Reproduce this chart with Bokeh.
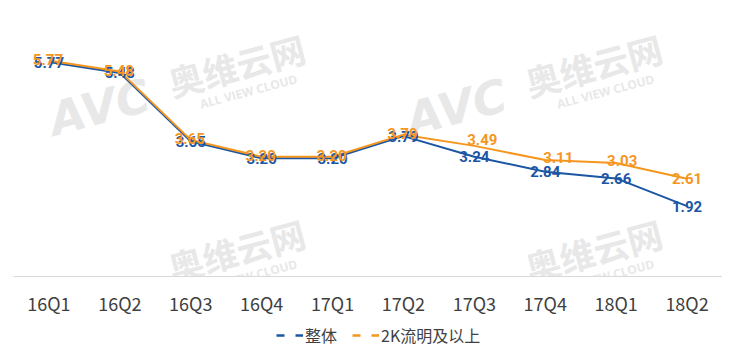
from bokeh.plotting import figure
from bokeh.layouts import column
from bokeh.core.properties import value
from bokeh.models import (FactorRange, Range1d, ColumnDataSource, LabelSet, Label,
                          Legend, LegendItem)
from bokeh.embed import file_html
from bokeh.resources import INLINE

quarters = ["16Q1", "16Q2", "16Q3", "16Q4", "17Q1", "17Q2", "17Q3", "17Q4", "18Q1", "18Q2"]
overall = [5.77, 5.48, 3.65, 3.20, 3.20, 3.79, 3.24, 2.84, 2.66, 1.92]
bright2k = [5.77, 5.48, 3.65, 3.20, 3.20, 3.79, 3.49, 3.11, 3.03, 2.61]
series_names = ["整体", "2K流明及以上"]

BLUE = "#1B56A4"
ORANGE = "#F5961F"
WM = "#E8E8E8"

# label offsets (screen px) for the orange series labels
orange_dx = [-1, -1, -1, -1, -1, -1, 8, 13, 6, 0]
orange_dy = [1, 1, 1, 1, 1, 1, 6, 3, 3, 0]

Y0, Y1 = 0, 7
FRAME_TOP, FRAME_H = 14, 262
FRAME_LEFT = 13
P_H = 320
shift = 1.5 * (Y1 - Y0) / FRAME_H

p = figure(x_range=FactorRange(*quarters), y_range=Range1d(Y0, Y1),
           width=722, height=P_H, output_backend="svg", toolbar_location=None,
           y_axis_location=None,
           min_border_left=FRAME_LEFT, min_border_right=0, min_border_top=FRAME_TOP,
           min_border_bottom=P_H - FRAME_TOP - FRAME_H)
p.extra_y_ranges = {"blue": Range1d(Y0 + shift, Y1 + shift)}
p.outline_line_color = None
p.xgrid.visible = False
p.ygrid.visible = False
p.background_fill_color = "white"
p.border_fill_color = "white"

# watermarks (decoration), positioned in picture pixels
def watermark(cx, cy, with_logo=True):
    fb = FRAME_TOP + FRAME_H
    items = [
        ("奥维云网", cx, cy, "35px", "Noto Sans CJK SC", "bold"),
        ("ALL VIEW CLOUD", cx + 12, cy + 27, "12px", "Open Sans", "bold"),
    ]
    if with_logo:
        items.insert(0, ("AVC", cx - 137, cy + 43, "46px", "DejaVu Sans", "bold italic"))
    for t, x, y, fs, ff, st in items:
        p.add_layout(Label(x=x - FRAME_LEFT, y=fb - y, x_units="screen", y_units="screen",
                           text=t, angle=0.26, text_align="center", text_baseline="middle",
                           text_color=WM, text_font_size=fs, text_font=ff,
                           text_font_style=st, level="underlay"))

for ox in [0, 357]:
    watermark(236 + ox, 64)
    watermark(236 + ox, 64 + 185, with_logo=False)

src_b = ColumnDataSource(dict(x=quarters, y=overall, t=[f"{v:.2f}" for v in overall]))
src_o = ColumnDataSource(dict(x=quarters, y=bright2k, t=[f"{v:.2f}" for v in bright2k],
                              dx=orange_dx, dy=orange_dy))

p.line("x", "y", source=src_b, color=BLUE, line_width=2, y_range_name="blue")
p.line("x", "y", source=src_o, color=ORANGE, line_width=2)

lbl_font = value("Roboto")
p.add_layout(LabelSet(x="x", y="y", text="t", source=src_b, y_range_name="blue",
                      text_align="center", text_baseline="middle", text_color=BLUE,
                      text_font=lbl_font, text_font_style="bold", text_font_size="15px"))
p.add_layout(LabelSet(x="x", y="y", text="t", source=src_o, x_offset="dx", y_offset="dy",
                      text_align="center", text_baseline="middle", text_color=ORANGE,
                      text_font=lbl_font, text_font_style="bold", text_font_size="15px"))

ax = p.xaxis[0]
ax.axis_line_color = "#D9D9D9"
ax.axis_line_width = 1
ax.major_tick_line_color = None
ax.minor_tick_line_color = None
ax.major_tick_out = 0
ax.major_label_standoff = 13
ax.major_label_text_font = "Noto Sans CJK SC"
ax.major_label_text_font_size = "18px"
ax.major_label_text_color = "#404040"

# legend strip
lf = figure(width=722, height=348 - P_H, x_range=Range1d(0, 1), y_range=Range1d(0, 1),
            output_backend="svg", toolbar_location=None,
            x_axis_location=None, y_axis_location=None,
            min_border_left=0, min_border_right=0, min_border_top=0, min_border_bottom=0)
lf.outline_line_color = None
lf.xgrid.visible = False
lf.ygrid.visible = False
rb = lf.line(x=[5, 6], y=[5, 6], color=BLUE, line_width=2.5, line_dash="8 11")
ro = lf.line(x=[5, 6], y=[5, 6], color=ORANGE, line_width=2.5, line_dash="8 11")
legend = Legend(items=[LegendItem(label=series_names[0], renderers=[rb]),
                       LegendItem(label=series_names[1], renderers=[ro])],
                orientation="horizontal", location=(263, 1),
                glyph_width=27, glyph_height=16, label_height=16, label_standoff=2,
                spacing=15, padding=0, margin=0, border_line_color=None,
                background_fill_alpha=0,
                label_text_font="Noto Sans CJK SC", label_text_font_size="16px",
                label_text_color="#404040")
lf.add_layout(legend)

open("out.html", "w").write(file_html(column(p, lf, spacing=0), INLINE))
